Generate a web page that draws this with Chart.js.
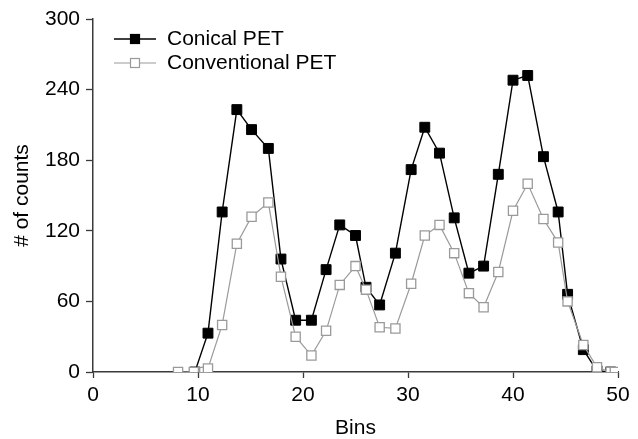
<!DOCTYPE html>
<html>
<head>
<meta charset="utf-8">
<script src="https://cdn.jsdelivr.net/npm/chart.js@4/dist/chart.umd.min.js"></script>
<style>
html,body{margin:0;padding:0;background:#fff;}
#wrap{width:638px;height:439px;position:relative;}
</style>
</head>
<body>
<div id="wrap"><canvas id="c" width="638" height="439"></canvas></div>
<script>
// Data
const conicalX = [9.7, 10.95, 12.3, 13.7, 15.1, 16.7, 17.9, 19.3, 20.8, 22.2, 23.5, 25.0, 26.0, 27.3, 28.8, 30.3, 31.6, 33.0, 34.4, 35.8, 37.2, 38.6, 40.0, 41.4, 42.9, 44.3, 45.2, 46.7, 48.0, 49.3];
const conicalY = [0, 33, 136, 223, 206, 190, 96, 44, 44, 87, 125, 116, 72, 57, 101, 172, 208, 186, 131, 84, 90, 168, 248, 252, 183, 136, 66, 19, 1, 0];
const conventionalX = [8.1, 9.6, 10.6, 10.95, 12.3, 13.7, 15.1, 16.7, 17.9, 19.3, 20.8, 22.2, 23.5, 25.0, 26.0, 27.3, 28.8, 30.3, 31.6, 33.0, 34.4, 35.8, 37.2, 38.6, 40.0, 41.4, 42.9, 44.3, 45.2, 46.7, 48.0, 49.3, 49.7];
const conventionalY = [0, 0, 0, 3, 40, 109, 132, 144, 81, 30, 14, 35, 74, 90, 70, 38, 37, 75, 116, 125, 101, 67, 55, 85, 137, 160, 130, 110, 60, 23, 4, 0, 0];
const seriesNames = ["Conical PET", "Conventional PET"];
const xTitle = "Bins";
const yTitle = "# of counts";
const xTicks = [0, 10, 20, 30, 40, 50];
const yTicks = [0, 60, 120, 180, 240, 300];

const toPts = (xs, ys) => xs.map((x, i) => ({x: x, y: ys[i]}));
const FONT = "'Liberation Sans', Arial, Helvetica, sans-serif";
const AXIS = '#3a3a3a';
const GREY = '#9a9a9a';

const legendPlugin = {
  id: 'customLegend',
  afterDraw(chart) {
    const ctx = chart.ctx;
    ctx.save();
    const rows = [
      {name: seriesNames[0], y: 39, line: '#000', fill: '#000', stroke: '#000', lw: 1.4},
      {name: seriesNames[1], y: 63, line: GREY, fill: '#fff', stroke: GREY, lw: 1.2}
    ];
    rows.forEach(r => {
      ctx.strokeStyle = r.line;
      ctx.lineWidth = r.lw;
      ctx.beginPath();
      ctx.moveTo(114, r.y);
      ctx.lineTo(156, r.y);
      ctx.stroke();
      const s = 9;
      ctx.fillStyle = r.fill;
      ctx.fillRect(135 - s/2, r.y - s/2, s, s);
      ctx.strokeStyle = r.stroke;
      ctx.lineWidth = 1.2;
      ctx.strokeRect(135 - s/2, r.y - s/2, s, s);
      ctx.fillStyle = '#000';
      ctx.font = '21px ' + FONT;
      ctx.textBaseline = 'middle';
      ctx.textAlign = 'left';
      ctx.fillText(r.name, 167, r.y);
    });
    ctx.restore();
  }
};

new Chart(document.getElementById('c'), {
  type: 'line',
  data: {
    datasets: [
      {
        label: seriesNames[0],
        data: toPts(conicalX, conicalY),
        borderColor: '#000',
        backgroundColor: '#000',
        borderWidth: 1.4,
        pointStyle: 'rect',
        pointRadius: 7,
        pointBorderWidth: 1,
        pointBorderColor: '#000',
        pointBackgroundColor: '#000',
        tension: 0,
        order: 1
      },
      {
        label: seriesNames[1],
        data: toPts(conventionalX, conventionalY),
        borderColor: GREY,
        backgroundColor: '#fff',
        borderWidth: 1.2,
        pointStyle: 'rect',
        pointRadius: 6.5,
        pointBorderWidth: 1.3,
        pointBorderColor: GREY,
        pointBackgroundColor: '#fff',
        tension: 0,
        order: 0
      }
    ]
  },
  options: {
    responsive: false,
    devicePixelRatio: 1,
    animation: false,
    layout: {padding: {top: 19, right: 20, left: 0, bottom: 0}},
    plugins: {legend: {display: false}, tooltip: {enabled: false}},
    scales: {
      x: {
        type: 'linear',
        min: 0, max: 50,
        afterBuildTicks: s => { s.ticks = xTicks.map(v => ({value: v})); },
        afterFit: s => { s.height = 67; },
        ticks: {color: '#000', font: {family: FONT, size: 21}, padding: 5, maxRotation: 0},
        grid: {drawOnChartArea: false, drawTicks: true, tickLength: 6, color: AXIS, tickWidth: 1.3},
        border: {color: AXIS, width: 1.5},
        title: {display: true, text: xTitle, color: '#000', font: {family: FONT, size: 21}, padding: {top: 0, bottom: -2}}
      },
      y: {
        type: 'linear',
        min: 0, max: 300,
        afterBuildTicks: s => { s.ticks = yTicks.map(v => ({value: v})); },
        afterFit: s => { s.width = 93; },
        ticks: {color: '#000', font: {family: FONT, size: 21}, padding: 6},
        grid: {drawOnChartArea: false, drawTicks: true, tickLength: 7, color: AXIS, tickWidth: 1.3},
        border: {color: AXIS, width: 1.5},
        title: {display: true, text: yTitle, color: '#000', font: {family: FONT, size: 21}, padding: {top: 10, bottom: 0}}
      }
    }
  },
  plugins: [legendPlugin]
});
</script>
</body>
</html>
